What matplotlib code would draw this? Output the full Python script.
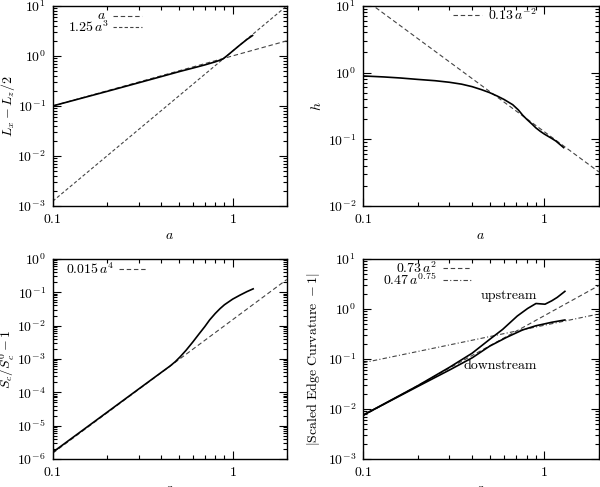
import matplotlib
matplotlib.use("Agg")
import matplotlib.pyplot as plt
import matplotlib.ticker as mticker
import numpy as np

plt.rcParams["mathtext.fontset"] = "cm"
plt.rcParams["font.family"] = "serif"
plt.rcParams["font.serif"] = ["cmr10", "DejaVu Serif"]
plt.rcParams["axes.formatter.use_mathtext"] = True

# panel 1: L_x - L_z/2
a1 = [0.1, 0.2, 0.3, 0.4, 0.51, 0.6, 0.7, 0.8, 0.88, 0.95, 1.0, 1.1, 1.2, 1.29]
lx1 = [0.1, 0.195, 0.29, 0.385, 0.49, 0.57, 0.66, 0.76, 0.86, 1.07, 1.25, 1.66, 2.13, 2.55]

# panel 2: h
a2 = [0.1, 0.13, 0.16, 0.2, 0.25, 0.3, 0.35, 0.4, 0.45, 0.5, 0.55, 0.6, 0.67, 0.72,
      0.76, 0.8, 0.86, 0.9, 0.95, 1.0, 1.1, 1.16, 1.28]
h2 = [0.89, 0.86, 0.83, 0.79, 0.755, 0.715, 0.67, 0.615, 0.555, 0.50, 0.445, 0.395, 0.33,
      0.275, 0.23, 0.2, 0.167, 0.148, 0.132, 0.12, 0.103, 0.094, 0.075]

# panel 3: S_c/S_c^0 - 1
a3 = [0.1, 0.2, 0.3, 0.4, 0.45, 0.48, 0.51, 0.55, 0.6, 0.65, 0.7, 0.745, 0.8, 0.85, 0.9,
      1.0, 1.1, 1.2, 1.3]
s3 = [1.6e-6, 2.5e-5, 1.25e-4, 3.9e-4, 6.2e-4, 8.3e-4, 1.15e-3, 1.8e-3, 3.2e-3, 5.6e-3,
      9.3e-3, 0.0148, 0.023, 0.032, 0.042, 0.062, 0.082, 0.104, 0.126]

# panel 4: edge curvature
a4 = [0.1, 0.2, 0.3, 0.4, 0.5, 0.59, 0.71, 0.81, 0.9, 1.01, 1.1, 1.18, 1.3]
up4 = [0.0075, 0.029, 0.068, 0.13, 0.246, 0.39, 0.72, 1.02, 1.28, 1.24, 1.45, 1.70, 2.24]
a4d = [0.1, 0.2, 0.3, 0.4, 0.5, 0.62, 0.76, 0.9, 1.0, 1.1, 1.3]
down4 = [0.0075, 0.028, 0.06, 0.105, 0.18, 0.27, 0.38, 0.46, 0.5, 0.54, 0.6]

fit_a = np.array([0.1, 2.0])
FITCOL = "#444444"
DASH = (0, (4, 2.5))
DASHDOT = (0, (4, 2, 1, 2))
FS = 10

fig = plt.figure(figsize=(6.0, 4.87), dpi=100)
pos = [
    [0.088, 0.577, 0.39, 0.411],
    [0.605, 0.577, 0.393, 0.411],
    [0.088, 0.0575, 0.39, 0.411],
    [0.605, 0.0575, 0.393, 0.411],
]
axes = [fig.add_axes(p) for p in pos]


def style(ax, ylo, yhi):
    ax.set_xscale("log")
    ax.set_yscale("log")
    ax.set_xlim(0.1, 2)
    ax.set_ylim(ylo, yhi)
    ax.xaxis.set_major_locator(mticker.FixedLocator([0.1, 1]))
    ax.xaxis.set_minor_locator(mticker.FixedLocator([0.2, 0.3, 0.4, 0.5, 0.6, 0.7, 0.8, 0.9, 2]))
    ax.xaxis.set_major_formatter(mticker.FixedFormatter([r"$0.1$", r"$1$"]))
    ax.xaxis.set_minor_formatter(mticker.NullFormatter())
    ax.yaxis.set_major_locator(mticker.LogLocator(base=10, numticks=20))
    ax.yaxis.set_minor_locator(mticker.LogLocator(base=10, subs=np.arange(2, 10), numticks=20))
    ax.yaxis.set_major_formatter(mticker.LogFormatterMathtext())
    ax.yaxis.set_minor_formatter(mticker.NullFormatter())
    ax.tick_params(which="both", direction="in", top=True, right=True, labelsize=FS, width=0.8)
    ax.tick_params(which="major", length=6, pad=5)
    ax.tick_params(which="minor", length=3)
    for s in ax.spines.values():
        s.set_linewidth(1.0)
    ax.set_xlabel(r"$a$", fontsize=FS)
    ax.xaxis.set_label_coords(0.5, -0.12)


def legend_row(ax, x_text, y, text, style_, text_right=True, x0=None, x1=None):
    ax.plot([x0, x1], [y, y], transform=ax.transAxes, color=FITCOL, lw=0.8, linestyle=style_)
    ax.text(x_text, y, text, transform=ax.transAxes, fontsize=FS,
            ha="right" if text_right else "left", va="center")


# panel 1
ax = axes[0]
style(ax, 1e-3, 1e1)
ax.plot(fit_a, 1.0 * fit_a, color=FITCOL, lw=0.8, linestyle=DASH)
ax.plot(fit_a, 1.25 * fit_a ** 3, color=FITCOL, lw=0.8, linestyle=(0, (3, 2)))
ax.plot(a1, lx1, color="black", lw=1.2)
ax.set_ylabel(r"$L_x - L_z/2$", fontsize=FS)
ax.yaxis.set_label_coords(-0.152, 0.5)
legend_row(ax, 0.226, 0.95, r"$a$", DASH, x0=0.256, x1=0.38)
legend_row(ax, 0.24, 0.895, r"$1.25\,a^3$", (0, (3, 2)), x0=0.256, x1=0.38)

# panel 2
ax = axes[1]
style(ax, 1e-2, 1e1)
ax.plot(fit_a, 0.13 * fit_a ** -2, color=FITCOL, lw=0.8, linestyle=DASH)
ax.plot(a2, h2, color="black", lw=1.2)
ax.set_ylabel(r"$h$", fontsize=FS)
ax.yaxis.set_label_coords(-0.165, 0.5)
legend_row(ax, 0.53, 0.955, r"$0.13\,a^{-2}$", DASH, text_right=False, x0=0.38, x1=0.505)

# panel 3
ax = axes[2]
style(ax, 1e-6, 1e0)
ax.plot(fit_a, 0.015 * fit_a ** 4, color=FITCOL, lw=0.8, linestyle=DASH)
ax.plot(a3, s3, color="black", lw=1.2)
ax.set_ylabel(r"$S_c/S_c^0 - 1$", fontsize=FS)
ax.yaxis.set_label_coords(-0.152, 0.5)
legend_row(ax, 0.265, 0.95, r"$0.015\,a^4$", DASH, x0=0.282, x1=0.40)

# panel 4
ax = axes[3]
style(ax, 1e-3, 1e1)
ax.plot(fit_a, 0.73 * fit_a ** 2, color=FITCOL, lw=0.8, linestyle=DASH)
ax.plot(fit_a, 0.47 * fit_a ** 0.75, color=FITCOL, lw=0.8, linestyle=DASHDOT)
ax.plot(a4, up4, color="black", lw=1.2)
ax.plot(a4d, down4, color="black", lw=1.2)
ax.set_ylabel(r"$|\mathrm{Scaled\ Edge\ Curvature}\ -1|$", fontsize=FS)
ax.yaxis.set_label_coords(-0.172, 0.5)
legend_row(ax, 0.313, 0.953, r"$0.73\,a^2$", DASH, x0=0.34, x1=0.46)
legend_row(ax, 0.313, 0.893, r"$0.47\,a^{0.75}$", DASHDOT, x0=0.34, x1=0.46)
ax.text(0.64, 1.83, "upstream", fontsize=FS, ha="center", va="center")
ax.text(0.57, 0.072, "downstream", fontsize=FS, ha="center", va="center")

fig.savefig("out.png", dpi=100)
